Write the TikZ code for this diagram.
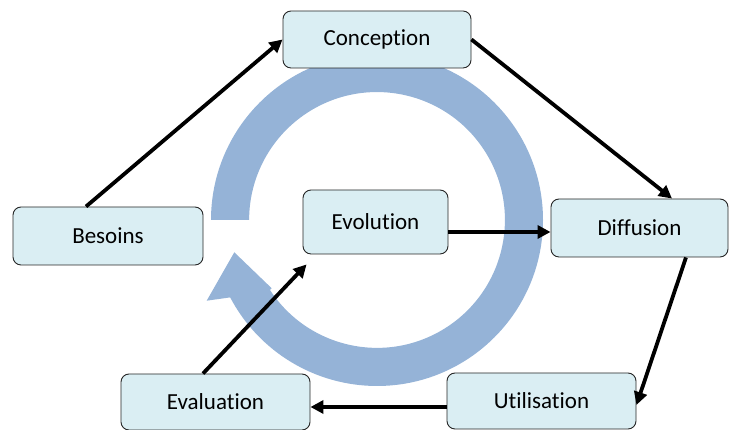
\documentclass[tikz,border=0pt]{standalone}
\usepackage{fontspec}
\setmainfont{Carlito}[Ligatures=NoCommon]
\usetikzlibrary{arrows.meta}
\definecolor{boxfill}{HTML}{DAEEF3}
\definecolor{ringblue}{HTML}{95B3D7}
\begin{document}
\begin{tikzpicture}[x=1pt,y=1pt,
  box/.style={draw=black!85, line width=0.9pt, fill=boxfill, rounded corners=8pt,
    font=\fontsize{23}{27}\selectfont, inner sep=0pt},
  arr/.style={draw=black, line width=3.8pt, -{Triangle[length=13pt,width=13pt]}}]
\useasboundingbox (0,0) rectangle (729,430);
% ring arrow
\coordinate (C) at (377,210);
\fill[ringblue] (C) ++(180:166) arc[start angle=180, end angle=-152.2, radius=166]
  -- (206.7,129.3) -- (234.3,177.7) -- (271.7,141.7) -- (270,140)
  arc[start angle=-146.8, end angle=180, radius=127.9] -- cycle;
% boxes
\node[box, minimum width=188pt, minimum height=57pt] (conc) at (377,390.5) {Conception};
\node[box, minimum width=190pt, minimum height=58pt] (bes) at (108,194) {Besoins};
\node[box, minimum width=145pt, minimum height=64pt] (evo) at (375.5,208) {Evolution};
\node[box, minimum width=177pt, minimum height=58pt] (diff) at (639.5,202) {Diffusion};
\node[box, minimum width=189pt, minimum height=56pt] (util) at (541.5,29) {Utilisation};
\node[box, minimum width=189pt, minimum height=56pt] (eval) at (215.5,28) {Evaluation};
% arrows
\draw[arr] ([xshift=-22pt]bes.north) -- (conc.west);
\draw[arr] (conc.east) -- ([xshift=32.5pt]diff.north);
\draw[arr] ([yshift=-10pt]evo.east) -- ([yshift=-10pt]evo.east -| diff.west);
\draw[arr] ([xshift=46.5pt]diff.south) -- ([yshift=-4pt]util.east);
\draw[arr] ([yshift=-6pt]util.west) -- ([yshift=-6pt]util.west -| eval.east);
\draw[arr] ([xshift=-12.5pt]eval.north) -- ([shift={(4pt,-10pt)}]evo.south west);
\end{tikzpicture}
\end{document}
